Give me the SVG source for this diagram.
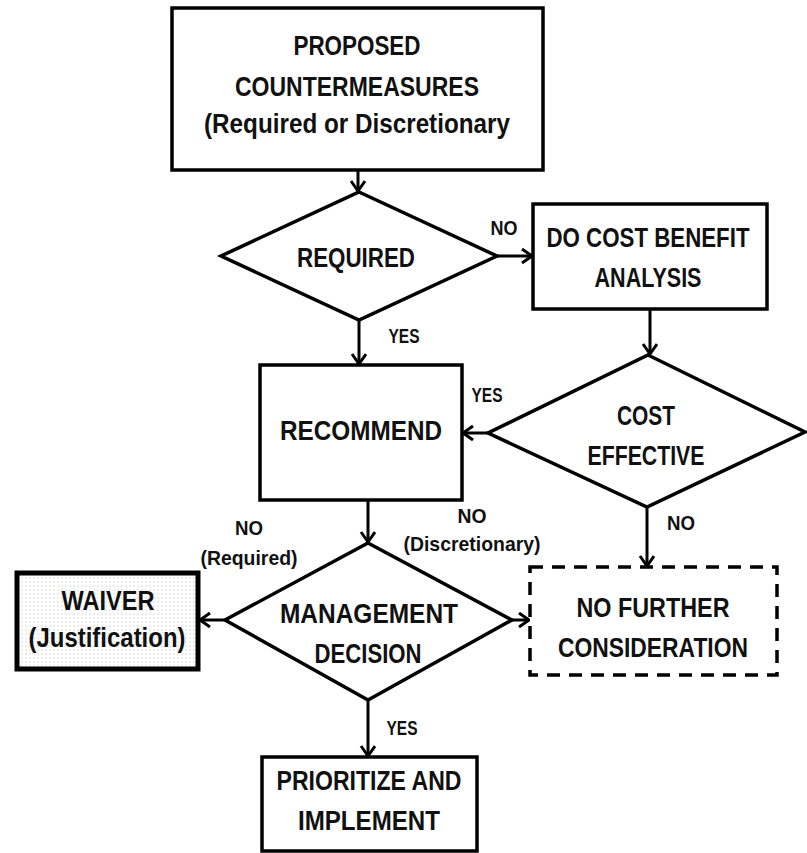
<svg xmlns="http://www.w3.org/2000/svg" width="807" height="853" viewBox="0 0 807 853">
  <style>
    .box { fill: #fff; stroke: #000; stroke-width: 3.5; }
    .dia { fill: #fff; stroke: #000; stroke-width: 3.5; stroke-linejoin: miter; }
    .dash { fill: #fff; stroke: #000; stroke-width: 3.5; stroke-dasharray: 13 9; }
    .thick { fill: url(#dots); stroke: #000; stroke-width: 5; }
    .wire { fill: none; stroke: #000; stroke-width: 3; marker-end: url(#arrow); }
    text { font-family: "Liberation Sans", Arial, sans-serif; font-weight: bold; fill: #111; text-anchor: middle; }
    .main { font-size: 27px; }
    .lbl { font-size: 21px; }
  </style>
  <defs>
    <marker id="arrow" markerUnits="userSpaceOnUse" markerWidth="14" markerHeight="18" refX="11" refY="8" orient="auto">
      <path d="M1,1 L11,8 L1,15" fill="none" stroke="#000" stroke-width="3" stroke-linejoin="miter"/>
    </marker>
    <pattern id="dots" width="4" height="4" patternUnits="userSpaceOnUse">
      <rect width="4" height="4" fill="#fff"/>
      <circle cx="2" cy="2" r="0.6" fill="#b0b0b0"/>
    </pattern>
  </defs>

  <rect width="807" height="853" fill="#fff"/>

  <!-- connectors -->
  <g id="connectors">
    <line class="wire" x1="358" y1="170" x2="358" y2="191"/>
    <line class="wire" x1="497" y1="256" x2="532" y2="256"/>
    <line class="wire" x1="359" y1="320" x2="359" y2="364"/>
    <line class="wire" x1="650" y1="309" x2="650" y2="354"/>
    <line class="wire" x1="488" y1="433" x2="463" y2="433"/>
    <line class="wire" x1="368" y1="500" x2="368" y2="542"/>
    <line class="wire" x1="225" y1="620" x2="200" y2="620"/>
    <line class="wire" x1="512" y1="620" x2="529" y2="620"/>
    <line class="wire" x1="647" y1="507" x2="647" y2="566"/>
    <line class="wire" x1="368" y1="700" x2="368" y2="756"/>

    <text class="lbl" x="504" y="235" textLength="27" lengthAdjust="spacingAndGlyphs">NO</text>
    <text class="lbl" x="404" y="343" textLength="31" lengthAdjust="spacingAndGlyphs">YES</text>
    <text class="lbl" x="487" y="402" textLength="31" lengthAdjust="spacingAndGlyphs">YES</text>
    <text class="lbl" x="681" y="530" textLength="28" lengthAdjust="spacingAndGlyphs">NO</text>
    <text class="lbl" x="472" y="523" textLength="29" lengthAdjust="spacingAndGlyphs">NO</text>
    <text class="lbl" x="472" y="551" textLength="137" lengthAdjust="spacingAndGlyphs">(Discretionary)</text>
    <text class="lbl" x="249" y="535" textLength="28" lengthAdjust="spacingAndGlyphs">NO</text>
    <text class="lbl" x="249" y="565" textLength="97" lengthAdjust="spacingAndGlyphs">(Required)</text>
    <text class="lbl" x="402" y="735" textLength="31" lengthAdjust="spacingAndGlyphs">YES</text>
  </g>

  <!-- proposed countermeasures -->
  <g id="proposed">
    <rect class="box" x="172" y="8" width="371" height="162"/>
    <text class="main" x="357" y="55" textLength="127" lengthAdjust="spacingAndGlyphs">PROPOSED</text>
    <text class="main" x="357" y="96" textLength="244" lengthAdjust="spacingAndGlyphs">COUNTERMEASURES</text>
    <text class="main" x="357" y="133" textLength="306" lengthAdjust="spacingAndGlyphs">(Required or Discretionary</text>
  </g>

  <!-- required decision -->
  <g id="required">
    <polygon class="dia" points="359,192 497,256 359,320 221,256"/>
    <text class="main" x="356" y="267" textLength="118" lengthAdjust="spacingAndGlyphs">REQUIRED</text>
  </g>

  <!-- cost benefit analysis -->
  <g id="cost-benefit">
    <rect class="box" x="533" y="204" width="234" height="105"/>
    <text class="main" x="648" y="247" textLength="203" lengthAdjust="spacingAndGlyphs">DO COST BENEFIT</text>
    <text class="main" x="648" y="287" textLength="107" lengthAdjust="spacingAndGlyphs">ANALYSIS</text>
  </g>

  <!-- recommend -->
  <g id="recommend">
    <rect class="box" x="260" y="365" width="202" height="135"/>
    <text class="main" x="361" y="440" textLength="162" lengthAdjust="spacingAndGlyphs">RECOMMEND</text>
  </g>

  <!-- cost effective decision -->
  <g id="cost-effective">
    <polygon class="dia" points="648,355 805,432 647,507 488,433"/>
    <text class="main" x="646" y="425" textLength="58" lengthAdjust="spacingAndGlyphs">COST</text>
    <text class="main" x="646" y="465" textLength="117" lengthAdjust="spacingAndGlyphs">EFFECTIVE</text>
  </g>

  <!-- management decision -->
  <g id="management">
    <polygon class="dia" points="368,543 512,620 368,700 225,620"/>
    <text class="main" x="369" y="623" textLength="178" lengthAdjust="spacingAndGlyphs">MANAGEMENT</text>
    <text class="main" x="368" y="663" textLength="107" lengthAdjust="spacingAndGlyphs">DECISION</text>
  </g>

  <!-- waiver -->
  <g id="waiver">
    <rect class="thick" x="17" y="573" width="181" height="96"/>
    <text class="main" x="108" y="610" textLength="93" lengthAdjust="spacingAndGlyphs">WAIVER</text>
    <text class="main" x="107" y="647" textLength="157" lengthAdjust="spacingAndGlyphs">(Justification)</text>
  </g>

  <!-- no further consideration -->
  <g id="no-further">
    <rect class="dash" x="530" y="567" width="247" height="108"/>
    <text class="main" x="653" y="617" textLength="153" lengthAdjust="spacingAndGlyphs">NO FURTHER</text>
    <text class="main" x="653" y="657" textLength="190" lengthAdjust="spacingAndGlyphs">CONSIDERATION</text>
  </g>

  <!-- prioritize and implement -->
  <g id="prioritize">
    <rect class="box" x="262" y="757" width="215" height="94"/>
    <text class="main" x="369" y="790" textLength="185" lengthAdjust="spacingAndGlyphs">PRIORITIZE AND</text>
    <text class="main" x="369" y="830" textLength="142" lengthAdjust="spacingAndGlyphs">IMPLEMENT</text>
  </g>
</svg>
